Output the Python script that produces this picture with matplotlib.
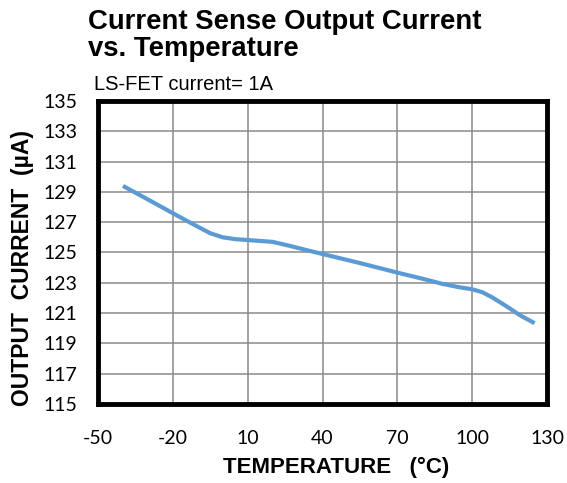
import matplotlib
matplotlib.use("Agg")
import matplotlib.pyplot as plt

# valores
temperature = [-40, -30, -20, -10, -5, 0, 5, 10, 20, 27, 35, 40, 55, 70, 80,
               88, 95, 100, 104, 108, 114, 119, 125]
current_ua = [129.39, 128.5, 127.59, 126.7, 126.27, 126.0, 125.88, 125.82, 125.7,
              125.43, 125.1, 124.9, 124.3, 123.67, 123.27, 122.93, 122.7, 122.57,
              122.38, 122.04, 121.42, 120.87, 120.33]

x_ticks = [-50, -20, 10, 40, 70, 100, 130]
y_ticks = [115, 117, 119, 121, 123, 125, 127, 129, 131, 133, 135]

TITLE = "Current Sense Output Current\nvs. Temperature"
SUBTITLE = "LS-FET current= 1A"

plt.rcParams["axes.unicode_minus"] = False

fig = plt.figure(figsize=(5.67, 4.83), dpi=100)
ax = fig.add_axes([0.1728, 0.1636, 0.792, 0.6274])

ax.plot(temperature, current_ua, color="#5B9BD5", linewidth=3.0,
        solid_capstyle="butt", solid_joinstyle="round", zorder=3)

ax.set_xlim(-50, 130)
ax.set_ylim(115, 135)
ax.set_xticks(x_ticks)
ax.set_yticks(y_ticks)
ax.grid(True, color="#8a8a8a", linewidth=1.1)
ax.set_axisbelow(True)
ax.tick_params(length=0, labelsize=14)
ax.tick_params(axis="x", pad=19)
ax.tick_params(axis="y", pad=15)
for lab in ax.get_xticklabels() + ax.get_yticklabels():
    lab.set_family("Lato")
for s in ax.spines.values():
    s.set_linewidth(3.5)
    s.set_color("black")

ax.set_xlabel("TEMPERATURE   (°C)", fontsize=16, fontweight="bold",
              family="Liberation Sans")
ax.set_ylabel("OUTPUT  CURRENT  (µA)", fontsize=16.5, fontweight="bold",
              family="Liberation Sans")
ax.xaxis.set_label_coords(0.53, -0.175)
ax.yaxis.set_label_coords(-0.142, 0.45)

fig.text(88 / 567, 1 - 9 / 483, TITLE, ha="left", va="top", fontsize=19.8,
         fontweight="bold", family="Liberation Sans", linespacing=1.05)
fig.text(94 / 567, 1 - 90 / 483, SUBTITLE, ha="left", va="baseline",
         fontsize=14.5, family="Liberation Sans")

fig.savefig("out.png", dpi=100)
